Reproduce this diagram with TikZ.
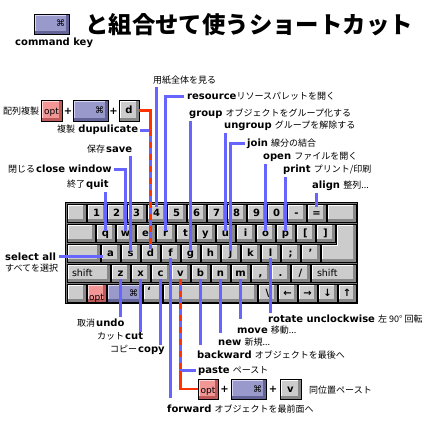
\documentclass[tikz,border=0pt]{standalone}
\usepackage{fontspec}
\setmainfont{DejaVu Sans}
\newfontfamily\cjk{Noto Sans CJK JP}
\usetikzlibrary{calc}
\definecolor{lblue}{RGB}{102,102,255}
\definecolor{lred}{RGB}{255,51,0}
\definecolor{keyface}{RGB}{204,204,204}
\definecolor{keyshade}{RGB}{136,136,136}
\definecolor{kbbg}{RGB}{120,120,120}
\definecolor{optcol}{RGB}{242,150,150}
\definecolor{optdark}{RGB}{190,90,90}
\definecolor{optlight}{RGB}{255,215,215}
\definecolor{cmdcol}{RGB}{153,153,204}
\definecolor{cmddark}{RGB}{100,100,150}
\definecolor{cmdlight}{RGB}{215,215,245}
\newcommand\jpt[1]{{\cjk\fontsize{9}{10}\selectfont #1}}
\newcommand\ent[1]{{\bfseries\fontsize{10}{11}\selectfont #1}}
\newcommand\kbkey[5]{\node[key, minimum width=#3] (#1) at ({#2+#3/2},#4) {#5};}
\tikzset{
 kbase/.style={draw=black, line width=0.8pt, inner sep=0pt, minimum height=18pt,
   font=\bfseries\fontsize{10}{11}\selectfont, text height=6.5pt, text depth=0.5pt},
 bevel/.style 2 args={path picture={
   \fill[#1] ([xshift=-3pt]path picture bounding box.north east) rectangle (path picture bounding box.south east);
   \fill[#1] (path picture bounding box.south west) rectangle ([yshift=3pt]path picture bounding box.south east);
   \draw[#2, line width=1pt] ([xshift=1.5pt,yshift=3pt]path picture bounding box.south west) |- ([xshift=-3pt,yshift=-1.5pt]path picture bounding box.north east);
 }},
 key/.style={kbase, fill=keyface, bevel={keyshade}{white}},
 optkey/.style={kbase, fill=optcol, bevel={optdark}{optlight}, font=\mdseries\fontsize{9}{10}\selectfont},
 cmdkey/.style={kbase, fill=cmdcol, bevel={cmddark}{cmdlight}, font=\mdseries\fontsize{9}{10}\selectfont, align=right},
 shiftkey/.style={key, text width=33pt, align=left, font=\mdseries\fontsize{9.5}{10}\selectfont},
 txt/.style={anchor=base west, inner sep=0pt, font=\fontsize{10}{11}\selectfont},
 plus/.style={inner sep=0pt, font=\bfseries\fontsize{10}{11}\selectfont},
 bl/.style={draw=lblue, line width=2.8pt},
 rl/.style={draw=lred, line width=2.8pt},
 rdash/.style={draw=lred, line width=2.8pt, dash pattern=on 6pt off 6pt},
}
\begin{document}
\begin{tikzpicture}[x=1pt,y=-1pt]
\useasboundingbox[fill=white] (0,0) rectangle (435,435);

% title
\node[anchor=base west, inner sep=0pt, font=\cjk\bfseries\fontsize{23.4}{24}\selectfont] (title) at (85,33.5) {と組合せて使うショートカット};
\node[cmdkey, minimum width=35pt, minimum height=20pt, text width=27pt] (cmdicon) at (51.5,24) {⌘};
\node[txt] (cmdlabel) at (15,46) {\ent{command key}};

% keyboard
\fill[kbbg] (65.5,202.5) rectangle (357.5,303.5);
\draw[black, line width=1pt] (65.5,202.5) rectangle (357.5,303.5);
% row 1
\kbkey{kesc}{67}{19}{213}{}
\kbkey{k1}{87}{19}{213}{1}
\kbkey{k2}{107}{19}{213}{2}
\kbkey{k3}{127}{19}{213}{3}
\kbkey{k4}{147}{19}{213}{4}
\kbkey{k5}{167}{19}{213}{5}
\kbkey{k6}{187}{19}{213}{6}
\kbkey{k7}{207}{19}{213}{7}
\kbkey{k8}{227}{19}{213}{8}
\kbkey{k9}{247}{19}{213}{9}
\kbkey{k0}{267}{19}{213}{0}
\kbkey{kminus}{287}{19}{213}{-}
\kbkey{kequal}{307}{19}{213}{=}
\kbkey{kdel}{327}{29}{213}{}
% row 2
\kbkey{ktab}{67}{28}{233}{}
\kbkey{kq}{96}{19}{233}{q}
\kbkey{kw}{116}{19}{233}{w}
\kbkey{ke}{136}{19}{233}{e}
\kbkey{kr}{156}{19}{233}{r}
\kbkey{kt}{176}{19}{233}{t}
\kbkey{ky}{196}{19}{233}{y}
\kbkey{ku}{216}{19}{233}{u}
\kbkey{ki}{236}{19}{233}{i}
\kbkey{ko}{256}{19}{233}{o}
\kbkey{kp}{276}{19}{233}{p}
\kbkey{klb}{296}{19}{233}{[}
\kbkey{krb}{316}{19}{233}{]}
% return key
\fill[keyshade] (336,224) -- (356,224) -- (356,262) -- (321,262) -- (321,244) -- (336,244) -- cycle;
\fill[keyface] (336,224) -- (353,224) -- (353,259) -- (321,259) -- (321,244) -- (336,244) -- cycle;
\draw[white, line width=1pt] (322.5,259) -- (322.5,245.5) -- (337.5,245.5) -- (337.5,225.5) -- (353,225.5);
\draw[black, line width=0.8pt] (336,224) -- (356,224) -- (356,262) -- (321,262) -- (321,244) -- (336,244) -- cycle;
% row 3
\kbkey{kcaps}{67}{33}{253}{}
\kbkey{ka}{101}{19}{253}{a}
\kbkey{ks}{121}{19}{253}{s}
\kbkey{kd}{141}{19}{253}{d}
\kbkey{kf}{161}{19}{253}{f}
\kbkey{kg}{181}{19}{253}{g}
\kbkey{kh}{201}{19}{253}{h}
\kbkey{kj}{221}{19}{253}{j}
\kbkey{kk}{241}{19}{253}{k}
\kbkey{kl}{261}{19}{253}{l}
\kbkey{ksemi}{281}{19}{253}{;}
\kbkey{kquote}{301}{19}{253}{'}
% row 4
\node[shiftkey, minimum width=43] (kshl) at (88.5,273) {shift};
\kbkey{kz}{111}{19}{273}{z}
\kbkey{kx}{131}{19}{273}{x}
\kbkey{kc}{151}{19}{273}{c}
\kbkey{kv}{171}{19}{273}{v}
\kbkey{kb}{191}{19}{273}{b}
\kbkey{kn}{211}{19}{273}{n}
\kbkey{km}{231}{19}{273}{m}
\kbkey{kcomma}{251}{19}{273}{,}
\kbkey{kdot}{271}{19}{273}{.}
\kbkey{kslash}{291}{19}{273}{/}
\node[shiftkey, minimum width=45] (kshr) at (333.5,273) {shift};
% row 5
\kbkey{kctl}{67}{19}{293}{}
\node[optkey, minimum width=19] (kopt) at (96.5,293) {\raisebox{-4.5pt}{opt}};
\node[cmdkey, minimum width=35, text width=27pt] (kcmd) at (124.5,293) {⌘};
\node[key, minimum width=19, text width=11pt, align=left] (kgrave) at (152.5,293) {\raisebox{2pt}{`}};
\kbkey{kspace}{163}{94}{293}{}
\kbkey{kbsl}{258}{19}{293}{\textbackslash}
\kbkey{kleft}{278}{19}{293}{←}
\kbkey{kright}{298}{19}{293}{→}
\kbkey{kdown}{318}{19}{293}{↓}
\kbkey{kup}{338}{18}{293}{↑}

% top-left combination
\node[txt] (hairetsu) at (3,114.5) {\jpt{配列複製}};
\node[optkey, minimum width=21, minimum height=21] (opt1) at (51.5,110.5) {\raisebox{-1pt}{opt}};
\node[plus] (p1) at (68,111) {+};
\node[cmdkey, minimum width=35, minimum height=21, text width=27pt] (cmd1) at (90.5,110.5) {⌘};
\node[plus] (p2) at (113.5,111) {+};
\node[key, minimum width=20, minimum height=21] (dicon) at (129,110.5) {d};

% labels above
\node[txt] (dup) at (57,133) {\jpt{複製} \ent{dupulicate}};
\node[txt] (save) at (87,153) {\jpt{保存}\hspace{1pt}\ent{save}};
\node[txt] (close) at (8,173) {\jpt{閉じる}\hspace{1pt}\ent{close window}};
\node[txt] (quit) at (67,188) {\jpt{終了}\hspace{1pt}\ent{quit}};
\node[txt] (selall) at (5,260) {\ent{select all}};
\node[txt] (subete) at (5,271) {\jpt{すべてを選択}};
\node[txt] (youshi) at (153,84) {\jpt{用紙全体を見る}};
\node[txt] (res) at (187,100) {\ent{resource}\jpt{リソースパレットを開く}};
\node[txt] (grp) at (189,116.5) {\ent{group} \jpt{オブジェクトをグループ化する}};
\node[txt] (ungrp) at (224,129) {\ent{ungroup} \jpt{グループを解除する}};
\node[txt] (join) at (247,146.5) {\ent{join} \jpt{線分の結合}};
\node[txt] (open) at (263,160) {\ent{open} \jpt{ファイルを開く}};
\node[txt] (print) at (283,173) {\ent{print} \jpt{プリント/印刷}};
\node[txt] (align) at (312,188.5) {\ent{align} \jpt{整列...}};

% labels below
\node[txt] (undo) at (77,326) {\jpt{取消}\hspace{1pt}\ent{undo}};
\node[txt] (cut) at (97,339.5) {\jpt{カット}\hspace{1pt}\ent{cut}};
\node[txt] (copy) at (110,352.5) {\jpt{コピー}\hspace{1pt}\ent{copy}};
\node[txt] (fwd) at (167,412) {\ent{forward} \jpt{オブジェクトを最前面へ}};
\node[txt] (paste) at (198,373) {\ent{paste} \jpt{ペースト}};
\node[txt] (back) at (197,358) {\ent{backward} \jpt{オブジェクトを最後へ}};
\node[txt] (new) at (218,345) {\ent{new} \jpt{新規...}};
\node[txt] (move) at (237,333) {\ent{move} \jpt{移動...}};
\node[txt] (rot) at (268,322) {\ent{rotate unclockwise} \jpt{左 90° 回転}};

% bottom combination
\node[optkey, minimum width=20, minimum height=20] (opt2) at (208,389) {\raisebox{-1pt}{opt}};
\node[plus] (p3) at (224.5,389.5) {+};
\node[cmdkey, minimum width=35, minimum height=20, text width=27pt] (cmd2) at (248.5,389) {⌘};
\node[plus] (p4) at (273,389.5) {+};
\node[key, minimum width=21, minimum height=20] (vicon) at (290.5,389) {v};
\node[txt] (douichi) at (309,393.5) {\jpt{同位置ペースト}};

% connectors: top
\draw[bl] ($(dup.east)+(2,0)$) -- (dup.east -| kd.center) -- ($(kd.center)+(0,-4)$);
\draw[rl] (dicon.east) -- (dicon.east -| kd.center) -- (kd.center |- dup.east);
\draw[rdash] (kd.center |- dup.east) -- ($(kd.center)+(0,-4)$);
\draw[bl] ($(k4.center |- youshi.south)+(0,2)$) -- ($(k4.center)+(0,-6)$);
\draw[bl] ($(res.west)+(-3,0)$) -- (res.west -| kr.center) -- ($(kr.center)+(0,-2)$);
\draw[bl] ($(kg.center |- grp.south)+(0,2)$) -- ($(kg.center)+(0,-2)$);
\draw[bl] ($(ku.center |- ungrp.south)+(0,2)$) -- ($(ku.center)+(0,-2)$);
\draw[bl] ($(join.west)+(-2,0)$) -- (join.west -| kj.center) -- ($(kj.center)+(0,-2)$);
\draw[bl] ($(ko.center |- open.south)+(0,2)$) -- ($(ko.center)+(0,-2)$);
\draw[bl] ($(kp.center |- print.south)+(0,2)$) -- ($(kp.center)+(0,-2)$);
\draw[bl] ($(kequal.center |- align.south)+(0,2)$) -- ($(kequal.center)+(0,-6)$);
\draw[bl] ($(ks.center |- save.south)+(0,2)$) -- ($(ks.center)+(0,-2)$);
\draw[bl] ($(close.east)+(2,0)$) -- (close.east -| kw.center) -- ($(kw.center)+(0,-2)$);
\draw[bl] ($(kq.center |- quit.south)+(0,2)$) -- ($(kq.center)+(0,-2)$);
\draw[bl] ($(selall.east)+(3,0)$) -- ($(selall.east -| ka.west)+(2,0)$);

% connectors: bottom
\draw[bl] ($(kz.center)+(0,6)$) -- ($(kz.center |- undo.base)+(0,-9)$);
\draw[bl] ($(kx.center)+(0,6)$) -- ($(kx.center |- cut.base)+(0,-7.5)$);
\draw[bl] ($(kc.center)+(0,6)$) -- ($(kc.center |- copy.base)+(0,-7.5)$);
\draw[bl] ($(kf.center)+(0,5)$) -- ($(kf.center |- fwd.base)+(0,-14)$);
\draw[bl] ($(kb.center)+(0,6)$) -- ($(kb.center |- back.base)+(0,-13)$);
\draw[bl] ($(kn.center)+(0,6)$) -- ($(kn.center |- new.base)+(0,-12)$);
\draw[bl] ($(km.center)+(0,6)$) -- ($(km.center |- move.base)+(0,-14)$);
\draw[bl] ($(kl.center)+(0,5)$) -- ($(kl.center |- rot.base)+(0,-9)$);
\draw[bl] ($(kv.center)+(0,6)$) -- (kv.center |- paste.west) -- ($(paste.west)+(-2,0)$);
\draw[rdash] ($(kv.center)+(0,6)$) -- (kv.center |- paste.west);
\draw[rl] (kv.center |- paste.west) -- (kv.center |- opt2.west) -- (opt2.west);
\end{tikzpicture}
\end{document}
